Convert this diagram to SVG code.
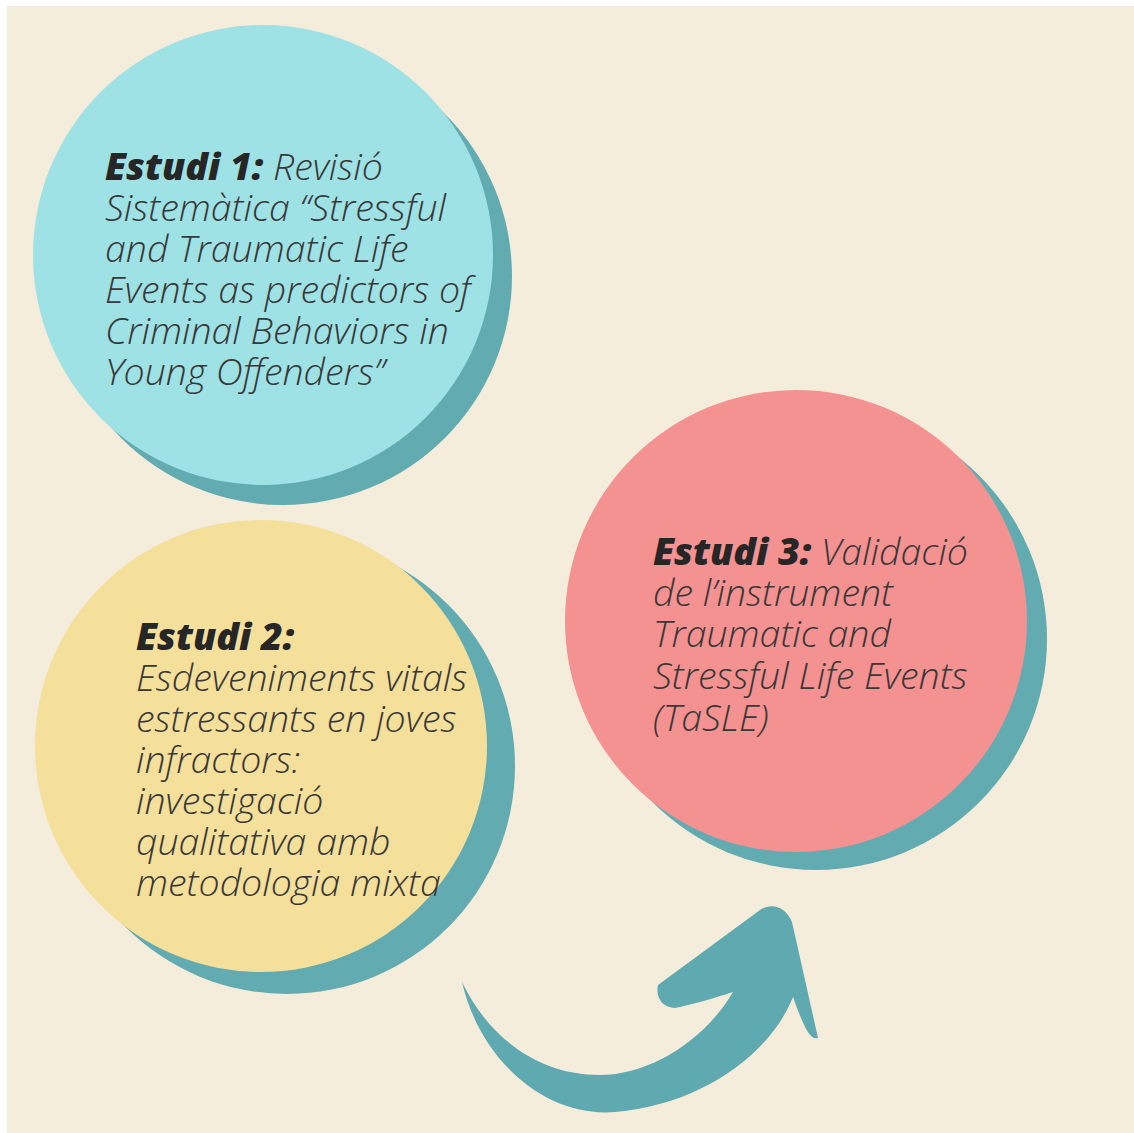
<svg xmlns="http://www.w3.org/2000/svg" width="1134" height="1133" viewBox="0 0 1134 1133">
  <style>
    .t { font-family: "Open Sans", "Noto Sans", "DejaVu Sans", sans-serif; font-style: italic; font-weight: 300; font-size: 37.5px; fill: #383838; }
    .b { font-weight: 800; fill: #262626; }
    .shadow { fill: #62abb1; }
  </style>
  <rect x="0" y="0" width="1134" height="1133" fill="#ffffff"/>
  <rect x="7" y="6" width="1127" height="1127" fill="#f5eddc"/>

  <g id="node-estudi1">
    <circle class="shadow" cx="283" cy="276" r="229"/>
    <circle cx="263" cy="255" r="230" fill="#9fe2e5"/>
    <text class="t" x="105" y="180"><tspan class="b">Estudi 1:</tspan> Revisió</text>
    <text class="t" x="105" y="221">Sistemàtica “Stressful</text>
    <text class="t" x="105" y="262">and Traumatic Life</text>
    <text class="t" x="105" y="303">Events as predictors of</text>
    <text class="t" x="105" y="344">Criminal Behaviors in</text>
    <text class="t" x="105" y="385">Young Offenders”</text>
  </g>

  <g id="node-estudi2">
    <circle class="shadow" cx="287" cy="766" r="228"/>
    <circle cx="261" cy="746" r="226" fill="#f4df9b"/>
    <text class="t" x="136" y="650"><tspan class="b">Estudi 2:</tspan></text>
    <text class="t" x="136" y="691">Esdeveniments vitals</text>
    <text class="t" x="136" y="732">estressants en joves</text>
    <text class="t" x="136" y="773">infractors:</text>
    <text class="t" x="136" y="814">investigació</text>
    <text class="t" x="136" y="855">qualitativa amb</text>
    <text class="t" x="136" y="896">metodologia mixta</text>
  </g>

  <g id="node-estudi3">
    <circle class="shadow" cx="816" cy="639" r="231"/>
    <circle cx="796" cy="621" r="231" fill="#f49191"/>
    <text class="t" x="653" y="565"><tspan class="b">Estudi 3:</tspan> Validació</text>
    <text class="t" x="653" y="606">de l’instrument</text>
    <text class="t" x="653" y="647">Traumatic and</text>
    <text class="t" x="653" y="689">Stressful Life Events</text>
    <text class="t" x="653" y="731">(TaSLE)</text>
  </g>

  <g id="connectors">
    <path fill="#5fa9b0" d="M 462 982 C 490 1040 540 1075 600 1075 C 650 1075 705 1040 733 992 C 715 998 690 1005 675 1008 C 663 1008 655 998 658 985 L 760 910 C 770 903 785 905 792 922 L 818 1038 C 812 1040 806 1034 793 997 C 770 1055 700 1105 615 1112 C 545 1118 480 1060 462 982 Z"/>
  </g>
</svg>
